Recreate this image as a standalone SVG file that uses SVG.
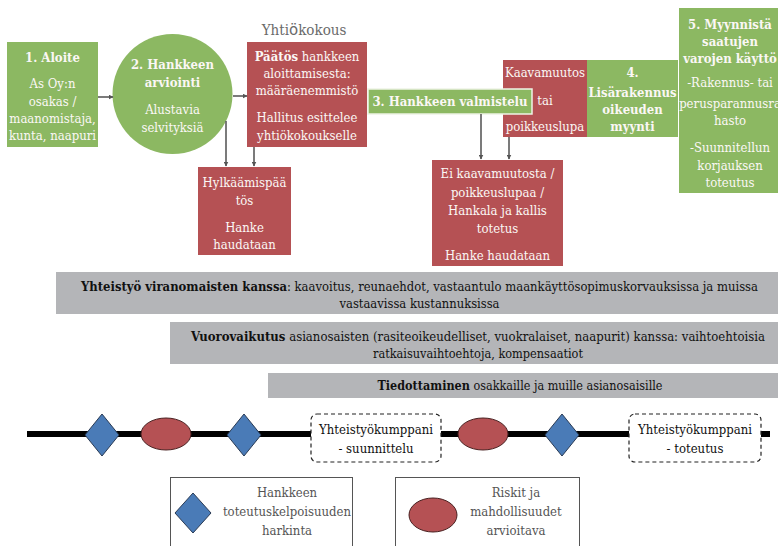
<svg xmlns="http://www.w3.org/2000/svg" width="778" height="546" viewBox="0 0 778 546">
  <defs>
    <marker id="arrow" viewBox="0 0 10 10" refX="9" refY="5" markerWidth="5" markerHeight="5" orient="auto" markerUnits="userSpaceOnUse">
      <path d="M0,0 L10,5 L0,10 z" fill="#555"/>
    </marker>
    <style>
      text { font-family: "DejaVu Serif Condensed", "DejaVu Serif", serif; font-stretch: condensed; }
      .green { fill: #8cb862; }
      .red { fill: #b55154; }
      .band { fill: #b4b5b8; }
      .wt { fill: #fbf7f5; font-size: 13px; text-anchor: middle; }
      .hd { font-weight: bold; }
      .bt { fill: #111; font-size: 13px; text-anchor: middle; }
      .conn { stroke: #5a5a5a; stroke-width: 1.6; fill: none; marker-end: url(#arrow); }
      .diamond { fill: #4a7bb7; stroke: #2a3b55; stroke-width: 1; }
      .oval { fill: #b55154; stroke: #4a2222; stroke-width: 1; }
      .dash { fill: #fff; stroke: #222; stroke-width: 1.2; stroke-dasharray: 4 3; }
      .dt { fill: #111; font-size: 13px; text-anchor: middle; }
      .legend { fill: #fff; stroke: #555; stroke-width: 1; }
      .lt { fill: #555; font-size: 13px; text-anchor: middle; }
    </style>
  </defs>

  <!-- process steps -->
  <g id="step1">
    <rect class="green" x="7" y="42" width="91" height="105"/>
    <text class="wt hd" x="52.5" y="62">1. Aloite</text>
    <text class="wt" x="52.5" y="88">As Oy:n</text>
    <text class="wt" x="52.5" y="106">osakas /</text>
    <text class="wt" x="52.5" y="123">maanomistaja,</text>
    <text class="wt" x="52.5" y="140">kunta, naapuri</text>
  </g>

  <g id="step2">
    <circle class="green" cx="172.5" cy="94" r="60"/>
    <text class="wt hd" x="172.5" y="69">2. Hankkeen</text>
    <text class="wt hd" x="172.5" y="87">arviointi</text>
    <text class="wt" x="172.5" y="114">Alustavia</text>
    <text class="wt" x="172.5" y="132">selvityksiä</text>
  </g>

  <g id="meeting">
    <text x="304" y="35" fill="#6a6a6a" font-size="15" text-anchor="middle">Yhti<tspan style="font-family: 'DejaVu Sans', sans-serif; font-stretch: normal">ö</tspan>kokous</text>
    <rect class="red" x="247" y="42" width="120" height="105"/>
    <text class="wt" x="307" y="61"><tspan class="hd">Päätös</tspan> hankkeen</text>
    <text class="wt" x="307" y="78">aloittamisesta:</text>
    <text class="wt" x="307" y="95">määräenemmistö</text>
    <text class="wt" x="307" y="122">Hallitus esittelee</text>
    <text class="wt" x="307" y="140">yhtiökokoukselle</text>
  </g>

  <g id="rejection">
    <rect class="red" x="198" y="167" width="93" height="88"/>
    <text class="wt" x="244.5" y="187">Hylkäämispää</text>
    <text class="wt" x="244.5" y="205">tös</text>
    <text class="wt" x="244.5" y="232">Hanke</text>
    <text class="wt" x="244.5" y="249">haudataan</text>
  </g>

  <g id="zoning">
    <rect class="red" x="503" y="60" width="84" height="77"/>
    <text class="wt" x="545" y="77">Kaavamuutos</text>
    <text class="wt" x="545" y="105">tai</text>
    <text class="wt" x="545" y="131">poikkeuslupa</text>
  </g>

  <g id="step3">
    <rect class="green" x="368" y="89" width="164" height="25" stroke="#eef3e6" stroke-width="1.5"/>
    <text class="wt hd" x="450" y="106">3. Hankkeen valmistelu</text>
  </g>

  <g id="step4">
    <rect class="green" x="587" y="60" width="91" height="77"/>
    <text class="wt hd" x="632.5" y="77">4.</text>
    <text class="wt hd" x="632.5" y="97">Lisärakennus</text>
    <text class="wt hd" x="632.5" y="114">oikeuden</text>
    <text class="wt hd" x="632.5" y="131">myynti</text>
  </g>

  <g id="step5">
    <rect class="green" x="679" y="8" width="102" height="185"/>
    <text class="wt hd" x="730" y="29">5. Myynnistä</text>
    <text class="wt hd" x="730" y="46">saatujen</text>
    <text class="wt hd" x="730" y="63">varojen käyttö</text>
    <text class="wt" x="730" y="87">-Rakennus- tai</text>
    <text class="wt" x="730" y="108">perusparannusra</text>
    <text class="wt" x="730" y="125">hasto</text>
    <text class="wt" x="730" y="152">-Suunnitellun</text>
    <text class="wt" x="730" y="170">korjauksen</text>
    <text class="wt" x="730" y="187">toteutus</text>
  </g>

  <g id="abandon">
    <rect class="red" x="432" y="160" width="131" height="106"/>
    <text class="wt" x="497.5" y="178">Ei kaavamuutosta /</text>
    <text class="wt" x="497.5" y="197">poikkeuslupaa /</text>
    <text class="wt" x="497.5" y="215">Hankala ja kallis</text>
    <text class="wt" x="497.5" y="233">totetus</text>
    <text class="wt" x="497.5" y="260">Hanke haudataan</text>
  </g>

  <!-- connectors -->
  <g id="connectors">
    <line class="conn" x1="98" y1="97" x2="113" y2="97"/>
    <line class="conn" x1="233" y1="96" x2="247" y2="96"/>
    <line class="conn" x1="226" y1="121" x2="226" y2="166"/>
    <line class="conn" x1="254" y1="147" x2="254" y2="166"/>
    <line class="conn" x1="481" y1="114" x2="481" y2="159"/>
    <line class="conn" x1="509" y1="137" x2="509" y2="159"/>
  </g>

  <!-- cooperation bands -->
  <g id="band-authorities">
    <rect class="band" x="56" y="272" width="724" height="42"/>
    <text class="bt" x="419.5" y="291" textLength="677" lengthAdjust="spacingAndGlyphs"><tspan font-weight="bold">Yhteistyö viranomaisten kanssa</tspan>: kaavoitus, reunaehdot, vastaantulo maankäyttösopimuskorvauksissa ja muissa</text>
    <text class="bt" x="419.5" y="308" textLength="160" lengthAdjust="spacingAndGlyphs">vastaavissa kustannuksissa</text>
  </g>
  <g id="band-interaction">
    <rect class="band" x="170" y="322" width="610" height="42"/>
    <text class="bt" x="478" y="341" textLength="574" lengthAdjust="spacingAndGlyphs"><tspan font-weight="bold">Vuorovaikutus</tspan> asianosaisten (rasiteoikeudelliset, vuokralaiset, naapurit) kanssa: vaihtoehtoisia</text>
    <text class="bt" x="478" y="358" textLength="210" lengthAdjust="spacingAndGlyphs">ratkaisuvaihtoehtoja, kompensaatiot</text>
  </g>
  <g id="band-communication">
    <rect class="band" x="268" y="373" width="512" height="25"/>
    <text class="bt" x="520" y="390" textLength="285" lengthAdjust="spacingAndGlyphs"><tspan font-weight="bold">Tiedottaminen</tspan> osakkaille ja muille asianosaisille</text>
  </g>

  <!-- timeline -->
  <g id="timeline">
    <line x1="27" y1="434" x2="770" y2="434" stroke="#000" stroke-width="6"/>
    <polygon class="diamond" points="102,414 119,435 102,456 85,435"/>
    <ellipse class="oval" cx="166" cy="434" rx="25" ry="16"/>
    <polygon class="diamond" points="244,414 261,435 244,456 227,435"/>
    <rect class="dash" x="311" y="414" width="130" height="48" rx="6"/>
    <text class="dt" x="376" y="434">Yhteistyökumppani</text>
    <text class="dt" x="376" y="453">- suunnittelu</text>
    <ellipse class="oval" cx="483" cy="434" rx="25" ry="16"/>
    <polygon class="diamond" points="562,414 579,435 562,456 545,435"/>
    <rect class="dash" x="629" y="414" width="132" height="48" rx="6"/>
    <text class="dt" x="695" y="434">Yhteistyökumppani</text>
    <text class="dt" x="695" y="453">- toteutus</text>
  </g>

  <!-- legend -->
  <g id="legend-feasibility">
    <rect class="legend" x="170.5" y="477.5" width="182" height="80"/>
    <polygon class="diamond" points="193,493 211,513 193,533 175,513"/>
    <text class="lt" x="287" y="497">Hankkeen</text>
    <text class="lt" x="287" y="516">toteutuskelpoisuuden</text>
    <text class="lt" x="287" y="535">harkinta</text>
  </g>
  <g id="legend-risks">
    <rect class="legend" x="395.5" y="477.5" width="184" height="80"/>
    <ellipse class="oval" cx="433" cy="515" rx="24" ry="17"/>
    <text class="lt" x="516" y="497">Riskit ja</text>
    <text class="lt" x="516" y="516">mahdollisuudet</text>
    <text class="lt" x="516" y="535">arvioitava</text>
  </g>
</svg>
